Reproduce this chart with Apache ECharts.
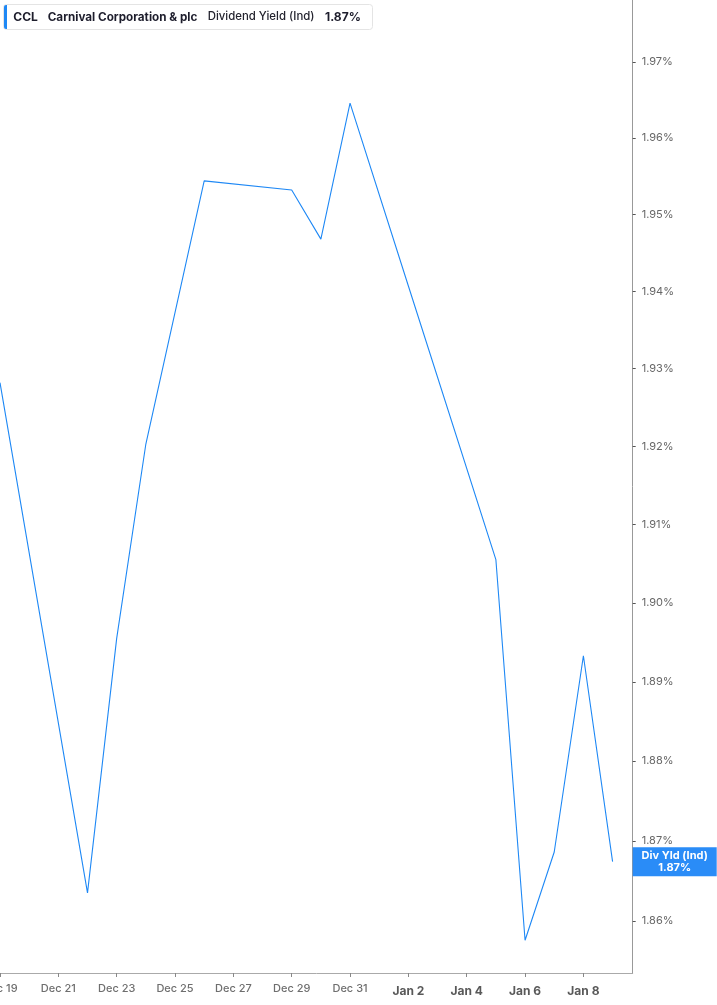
<!DOCTYPE html>
<html><head><meta charset="utf-8">
<script src="https://cdn.jsdelivr.net/npm/echarts@6/dist/echarts.min.js"></script>
<style>html,body{margin:0;padding:0;background:#fff}#c{width:717px;height:1005px}</style>
</head><body><div id="c"></div>
<script>
// ---- data ----
const dates = ['2025-12-19','2025-12-22','2025-12-23','2025-12-24','2025-12-26','2025-12-29','2025-12-30','2025-12-31','2026-01-02','2026-01-05','2026-01-06','2026-01-07','2026-01-08','2026-01-09'];
const yieldPct = [1.9282,1.8635,1.8955,1.9203,1.9544,1.9532,1.9468,1.9646,1.9407,1.9055,1.8576,1.8686,1.8933,1.8674];
const xTickDates = ['2025-12-19','2025-12-21','2025-12-23','2025-12-25','2025-12-27','2025-12-29','2025-12-31','2026-01-02','2026-01-04','2026-01-06','2026-01-08'];
const xTickLabels = ['Dec 19','Dec 21','Dec 23','Dec 25','Dec 27','Dec 29','Dec 31','Jan 2','Jan 4','Jan 6','Jan 8'];
const yTicks = [1.86,1.87,1.88,1.89,1.90,1.91,1.92,1.93,1.94,1.95,1.96,1.97];
const ticker = 'CCL';
const company = 'Carnival Corporation & plc';
const metric = 'Dividend Yield (Ind)';
const endTag = 'Div Yld (Ind)';

// ---- helpers ----
const DAY = 864e5;
const t0 = Date.parse(dates[0]);
const dayOf = d => (Date.parse(d) - t0) / DAY;
const xTickDays = xTickDates.map(dayOf);
const seriesData = dates.map((d, i) => [dayOf(d), yieldPct[i]]);
const last = yieldPct[yieldPct.length - 1];
const BLUE = '#1e88f5';
const FONT = 'Inter, "Noto Sans", sans-serif';
const X_MAX = 21.69;

const chart = echarts.init(document.getElementById('c'), null, {renderer: 'canvas'});
const legendGraphics = [
  {type: 'rect', shape: {x: 3.5, y: 4.5, width: 369, height: 25, r: 3},
   style: {fill: '#fff', stroke: '#e4e4e4', lineWidth: 1}, z: 10},
  {type: 'rect', shape: {x: 4, y: 5, width: 3, height: 24, r: [2, 0, 0, 2]},
   style: {fill: BLUE}, z: 11},
  {type: 'text', x: 13.3, y: 17, z: 11,
   style: {text: ticker, fontSize: 12, fontWeight: 'bold', fill: '#1d1d2c', verticalAlign: 'middle', fontFamily: FONT}},
  {type: 'text', x: 47.7, y: 17, z: 11,
   style: {text: company, fontSize: 11.7, fontWeight: 'bold', fill: '#1d1d2c', verticalAlign: 'middle', fontFamily: FONT}},
  {type: 'text', x: 207.7, y: 17, z: 11,
   style: {text: metric, fontSize: 11.4, fontWeight: 500, fill: '#24242f', verticalAlign: 'middle', fontFamily: FONT}},
  {type: 'text', x: 325, y: 17, z: 11,
   style: {text: last.toFixed(2) + '%', fontSize: 12, fontWeight: 'bold', fill: '#1d1d2c', verticalAlign: 'middle', fontFamily: FONT}}
];
chart.setOption({
  animation: false,
  backgroundColor: '#fff',
  textStyle: {fontFamily: FONT},
  grid: {left: 0, right: 84.3, top: 0, bottom: 32, containLabel: false, outerBoundsMode: 'none'},
  xAxis: {
    type: 'value', min: 0, max: X_MAX,
    axisLine: {show: true, onZero: false, lineStyle: {color: '#aaaaaa', width: 1}},
    axisTick: {show: true, customValues: xTickDays, length: 4, lineStyle: {color: '#888'}},
    axisLabel: {
      customValues: xTickDays, margin: 9,
      formatter: v => {
        const i = xTickDays.indexOf(v);
        if (i < 0) return '';
        const s = xTickLabels[i];
        return s.indexOf('Jan') === 0 ? '{b|' + s + '}' : '{a|' + s + '}';
      },
      rich: {
        a: {fontSize: 11, color: '#6e6e6e', fontWeight: 500, lineHeight: 14, fontFamily: FONT},
        b: {fontSize: 12, color: '#595959', fontWeight: 'bold', lineHeight: 18, fontFamily: FONT}
      }
    },
    splitLine: {show: false}
  },
  yAxis: {
    type: 'log', logBase: 10, position: 'right',
    min: 1.85354, max: 1.97819,
    axisLine: {show: true, onZero: false, lineStyle: {color: '#999', width: 1}},
    axisTick: {show: true, customValues: yTicks, length: 3, lineStyle: {color: '#555'}},
    axisLabel: {customValues: yTicks, margin: 9, color: '#666', fontSize: 11, fontFamily: FONT,
      formatter: v => v.toFixed(2) + '%'},
    splitLine: {show: false}
  },
  series: [{
    type: 'line',
    data: seriesData,
    showSymbol: false,
    symbol: 'none',
    lineStyle: {color: BLUE, width: 1.1},
    clip: true
  }],
  graphic: legendGraphics
});

// end-value tag on the right axis, positioned through the chart's own scales
const endPt = chart.convertToPixel({gridIndex: 0}, [X_MAX, last]);
chart.setOption({
  graphic: legendGraphics.concat([
    {type: 'text', x: endPt[0] + 42, y: endPt[1], z: 12,
     style: {
       text: endTag + '\n' + last.toFixed(2) + '%',
       align: 'center', verticalAlign: 'middle',
       fontSize: 11, lineHeight: 11.5, fontWeight: 'bold', fill: '#fff',
       fontFamily: FONT,
       backgroundColor: '#2a8cf7', width: 84, padding: [3, 0, 3, 0]
     }}
  ])
});
</script>
</body></html>
